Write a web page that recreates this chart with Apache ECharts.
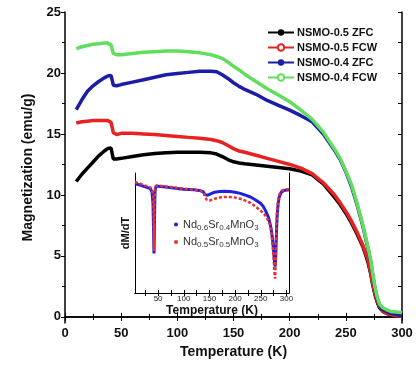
<!DOCTYPE html>
<html>
<head>
<meta charset="utf-8">
<script src="https://cdn.jsdelivr.net/npm/echarts@6/dist/echarts.min.js"></script>
<style>
html, body { margin: 0; padding: 0; background: #fff; }
#main { width: 418px; height: 367px; }
</style>
</head>
<body>
<div id="main"></div>
<script>
// main panel: magnetization vs temperature
var temps = [10, 15, 20, 25, 30, 35, 38, 41, 43, 46, 50, 60, 70, 80, 90, 100, 110, 120, 130, 135,
    140, 145, 150, 155, 160, 170, 180, 190, 200, 210, 220, 230, 240, 245, 250, 255, 260, 265, 268, 270,
    272, 274, 276, 278, 280, 283, 286, 290, 295, 300];
var zfc05 = [11.1, 11.7, 12.2, 12.7, 13.2, 13.6, 13.8, 13.85, 12.95, 12.95, 13.0, 13.15, 13.3, 13.4, 13.45, 13.5, 13.5, 13.5, 13.45, 13.35,
    13.15, 12.9, 12.72, 12.62, 12.55, 12.45, 12.35, 12.25, 12.15, 11.95, 11.65, 10.9, 9.8, 9.2, 8.5, 7.7, 6.8, 5.8, 5.0, 4.4,
    3.6, 2.6, 1.8, 1.2, 0.75, 0.45, 0.3, 0.2, 0.1, 0.05];
var fcw05 = [15.9, 16.0, 16.05, 16.1, 16.1, 16.1, 16.1, 15.95, 15.1, 14.95, 15.05, 15.05, 15.0, 14.95, 14.88, 14.8, 14.72, 14.65, 14.55, 14.45,
    14.3, 14.05, 13.8, 13.6, 13.5, 13.25, 13.0, 12.75, 12.5, 12.2, 11.75, 11.0, 10.0, 9.35, 8.65, 7.85, 6.95, 5.9, 5.15, 4.6,
    3.7, 2.7, 1.9, 1.3, 0.85, 0.5, 0.3, 0.2, 0.1, 0.05];
var zfc04 = [17.0, 17.8, 18.5, 18.95, 19.3, 19.6, 19.75, 19.8, 19.0, 18.95, 19.05, 19.25, 19.45, 19.65, 19.85, 19.95, 20.05, 20.15, 20.15, 20.1,
    19.85, 19.55, 19.2, 18.9, 18.65, 18.25, 17.75, 17.35, 16.95, 16.5, 16.0, 15.0, 13.65, 12.9, 11.9, 10.7, 9.2, 7.5, 6.3, 5.5,
    4.6, 3.4, 2.3, 1.5, 0.95, 0.6, 0.45, 0.3, 0.2, 0.1];
var fcw04 = [22.0, 22.15, 22.25, 22.35, 22.4, 22.45, 22.45, 22.3, 21.6, 21.5, 21.5, 21.6, 21.7, 21.75, 21.8, 21.8, 21.75, 21.65, 21.5, 21.35,
    21.2, 20.9, 20.55, 20.25, 19.9, 19.3, 18.7, 18.2, 17.65, 16.95, 16.2, 15.15, 13.75, 13.0, 11.95, 10.85, 9.3, 7.6, 6.4, 5.6,
    4.7, 3.5, 2.4, 1.6, 1.05, 0.75, 0.6, 0.45, 0.4, 0.35];
var mainNames = ['NSMO-0.5 ZFC', 'NSMO-0.5 FCW', 'NSMO-0.4 ZFC', 'NSMO-0.4 FCW'];
var yTicks = [0, 5, 10, 15, 20, 25];
var yMinorTicks = [2.5, 7.5, 12.5, 17.5, 22.5];
var yRightTicks = [0, 2.5, 5, 7.5, 10, 12.5, 15, 17.5, 20, 22.5, 25];

// inset: dM/dT (arbitrary units)
var insetT = [5, 15, 25, 35, 38, 40, 41, 42, 43, 44, 46, 50, 60, 80, 100, 120, 130, 138, 141, 144,
    147, 150, 160, 170, 180, 190, 200, 210, 220, 230, 240, 250, 255, 260, 265, 268, 270, 272, 274, 276,
    277, 278, 279, 280, 281, 282, 284, 286, 290, 295, 305];
var dmdt04 = [0.91, 0.90, 0.885, 0.87, 0.84, 0.75, 0.55, 0.33, 0.6, 0.85, 0.89, 0.89, 0.885, 0.875, 0.865, 0.86, 0.855, 0.845, 0.82, 0.81,
    0.815, 0.825, 0.84, 0.845, 0.848, 0.845, 0.84, 0.83, 0.815, 0.80, 0.775, 0.745, 0.72, 0.68, 0.63, 0.58, 0.54, 0.48, 0.40, 0.30,
    0.25, 0.22, 0.28, 0.42, 0.55, 0.65, 0.75, 0.80, 0.84, 0.855, 0.86];
var dmdt05 = [0.925, 0.91, 0.895, 0.88, 0.86, 0.82, 0.70, 0.35, 0.75, 0.87, 0.895, 0.895, 0.89, 0.88, 0.87, 0.86, 0.855, 0.84, 0.81, 0.78,
    0.765, 0.77, 0.785, 0.795, 0.80, 0.80, 0.795, 0.785, 0.77, 0.75, 0.72, 0.685, 0.665, 0.64, 0.60, 0.57, 0.53, 0.45, 0.35, 0.22,
    0.15, 0.12, 0.25, 0.45, 0.60, 0.70, 0.78, 0.82, 0.85, 0.86, 0.865];
var insetNames = ['Nd0.6Sr0.4MnO3', 'Nd0.5Sr0.5MnO3'];
var insetLabels = [50, 100, 150, 200, 250, 300];
var insetTicks = [25, 50, 75, 100, 125, 150, 175, 200, 225, 250, 275, 300];

function pairs(xs, ys) {
    return xs.map(function (x, i) { return [x, ys[i]]; });
}

var FONT = 'Liberation Sans, Arial, sans-serif';
var chart = echarts.init(document.getElementById('main'));

var option = {
    backgroundColor: '#fff',
    animation: false,
    textStyle: { fontFamily: FONT },
    grid: [
        { left: 65, right: 16, top: 12, bottom: 44 },
        { left: 135, top: 173, width: 154, height: 120, show: true, backgroundColor: '#fff', borderWidth: 0 }
    ],
    legend: [
        {
            data: mainNames,
            orient: 'vertical',
            left: 262,
            top: 22,
            itemWidth: 26,
            itemHeight: 8,
            itemGap: 4,
            textStyle: { fontSize: 11, fontWeight: 'bold', color: '#111', fontFamily: FONT, padding: [0, 0, 0, -2] }
        },
        {
            data: insetNames,
            orient: 'vertical',
            left: 169,
            top: 214,
            icon: 'circle',
            itemWidth: 4,
            itemHeight: 4,
            itemGap: 5,
            formatter: function (name) {
                var p = name.match(/Nd([\d.]+)Sr([\d.]+)MnO3/);
                return '{n|Nd}{s|' + p[1] + '}{n|Sr}{s|' + p[2] + '}{n|MnO}{s|3}';
            },
            textStyle: {
                color: '#333',
                fontFamily: FONT,
                rich: {
                    n: { fontSize: 11, color: '#333', fontFamily: FONT },
                    s: { fontSize: 8, color: '#333', fontFamily: FONT, padding: [6, 0, 0, 0] }
                }
            }
        }
    ],
    xAxis: [
        {
            gridIndex: 0, type: 'value', min: 0, max: 300, interval: 50,
            name: 'Temperature (K)', nameLocation: 'middle', nameGap: 17,
            nameTextStyle: { fontSize: 14, fontWeight: 'bold', color: '#111', fontFamily: FONT },
            axisLine: { lineStyle: { color: '#000', width: 1.5 } },
            axisTick: { inside: true, length: 4, lineStyle: { color: '#000' } },
            minorTick: { show: true, splitNumber: 2, length: 3, lineStyle: { color: '#000' } },
            axisLabel: { fontSize: 13, fontWeight: 'bold', color: '#111', margin: 4, fontFamily: FONT },
            splitLine: { show: false }
        },
        {
            gridIndex: 0, type: 'value', min: 0, max: 300, interval: 50, position: 'top',
            axisLine: { lineStyle: { color: '#000', width: 1.5 } },
            axisTick: { inside: true, length: 4, lineStyle: { color: '#000' } },
            minorTick: { show: true, splitNumber: 2, length: 3, lineStyle: { color: '#000' } },
            axisLabel: { show: false },
            splitLine: { show: false }
        },
        {
            gridIndex: 1, type: 'value', min: 5, max: 305,
            name: 'Temperature (K)', nameLocation: 'middle', nameGap: 12,
            nameTextStyle: { fontSize: 12, fontWeight: 'bold', color: '#111', fontFamily: FONT },
            axisLine: { lineStyle: { color: '#000', width: 1 } },
            axisTick: { inside: true, length: 3, customValues: insetTicks, lineStyle: { color: '#000' } },
            axisLabel: { customValues: insetLabels, fontSize: 8, color: '#222', margin: 2, fontFamily: FONT },
            splitLine: { show: false }
        },
        {
            gridIndex: 1, type: 'value', min: 5, max: 305, position: 'top',
            axisLine: { lineStyle: { color: '#000', width: 1 } },
            axisTick: { inside: true, length: 3, customValues: insetTicks, lineStyle: { color: '#000' } },
            axisLabel: { show: false },
            splitLine: { show: false }
        }
    ],
    yAxis: [
        {
            gridIndex: 0, type: 'value', min: -0.5, max: 25,
            name: 'Magnetization (emu/g)', nameLocation: 'middle', nameGap: 27,
            nameTextStyle: { fontSize: 14, fontWeight: 'bold', color: '#111', fontFamily: FONT },
            axisLine: { lineStyle: { color: '#000', width: 1.5 } },
            axisTick: { length: 4, customValues: yTicks, lineStyle: { color: '#000' } },
            axisLabel: { customValues: yTicks, fontSize: 13, fontWeight: 'bold', color: '#111', margin: 4, fontFamily: FONT },
            splitLine: { show: false }
        },
        {
            gridIndex: 0, type: 'value', min: -0.5, max: 25,
            axisLine: { show: false },
            axisTick: { inside: true, length: 3, customValues: yMinorTicks, lineStyle: { color: '#000' } },
            axisLabel: { show: false },
            splitLine: { show: false }
        },
        {
            gridIndex: 0, type: 'value', min: -0.5, max: 25, position: 'right',
            axisLine: { show: true, lineStyle: { color: '#000', width: 1.5 } },
            axisTick: { inside: true, length: 4, customValues: yRightTicks, lineStyle: { color: '#000' } },
            axisLabel: { show: false },
            splitLine: { show: false }
        },
        {
            gridIndex: 1, type: 'value', min: 0, max: 1,
            name: 'dM/dT', nameLocation: 'middle', nameGap: 4,
            nameTextStyle: { fontSize: 11, fontWeight: 'bold', color: '#111', fontFamily: FONT },
            axisLine: { show: true, lineStyle: { color: '#000', width: 1 } },
            axisTick: { show: false },
            axisLabel: { show: false },
            splitLine: { show: false }
        },
        {
            gridIndex: 1, type: 'value', min: 0, max: 1, position: 'right',
            axisLine: { show: true, lineStyle: { color: '#000', width: 1 } },
            axisTick: { show: false },
            axisLabel: { show: false },
            splitLine: { show: false }
        }
    ],
    series: [
        {
            name: mainNames[0], type: 'line', data: pairs(temps, zfc05),
            symbol: 'circle', symbolSize: 5, showSymbol: false,
            itemStyle: { color: '#000' }, lineStyle: { color: '#000', width: 3.5 }
        },
        {
            name: mainNames[1], type: 'line', data: pairs(temps, fcw05),
            symbol: 'emptyCircle', symbolSize: 5, showSymbol: false,
            itemStyle: { color: '#e82222' }, lineStyle: { color: '#e82222', width: 3.5 }
        },
        {
            name: mainNames[2], type: 'line', data: pairs(temps, zfc04),
            symbol: 'circle', symbolSize: 5, showSymbol: false,
            itemStyle: { color: '#1c1ca6' }, lineStyle: { color: '#1c1ca6', width: 3.5 }
        },
        {
            name: mainNames[3], type: 'line', data: pairs(temps, fcw04),
            symbol: 'emptyCircle', symbolSize: 5, showSymbol: false,
            itemStyle: { color: '#62de5e' }, lineStyle: { color: '#62de5e', width: 3.5 }
        },
        {
            name: insetNames[0], type: 'line', xAxisIndex: 2, yAxisIndex: 3, data: pairs(insetT, dmdt04),
            symbol: 'circle', symbolSize: 3, showSymbol: false,
            itemStyle: { color: '#2020e0' }, lineStyle: { color: '#2020e0', width: 3 }
        },
        {
            name: insetNames[1], type: 'line', xAxisIndex: 2, yAxisIndex: 3, data: pairs(insetT, dmdt05),
            symbol: 'circle', symbolSize: 3, showSymbol: false,
            itemStyle: { color: '#e83030' }, lineStyle: { color: '#e83030', width: 2.5, type: [3, 2] }
        }
    ]
};

chart.setOption(option);
</script>
</body>
</html>
